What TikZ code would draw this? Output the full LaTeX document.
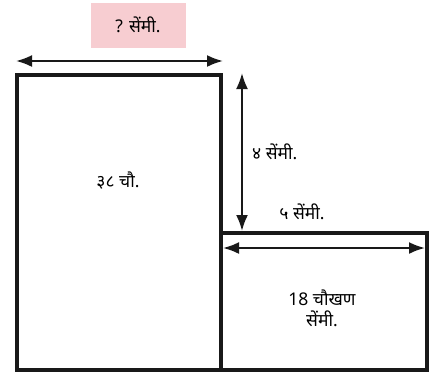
\documentclass[tikz,border=0pt]{standalone}
\usepackage{fontspec}
\setmainfont[Script=Devanagari]{Noto Sans}
\usetikzlibrary{arrows.meta}
\definecolor{labelpink}{HTML}{F7CDD1}
\begin{document}
\begin{tikzpicture}
        [x=1pt, y=-1pt,
        rect/.style={line width=3.2pt, black!90},
        dim/.style={line width=2.2pt, black!90, {Latex[length=16pt,width=12pt]}-{Latex[length=16pt,width=12pt]}},
        lbl/.style={font=\fontsize{17.5}{21}\selectfont, inner sep=0pt, align=center}]

        \useasboundingbox (0,0) rectangle (434,373);

        % corners of the two rectangles
        \coordinate (BL) at (17,370);
        \coordinate (BT) at (221,75);
        \coordinate (SB) at (427,370);
        \coordinate (ST) at (221,233);

        \draw[rect] (BL) rectangle (BT);
        \draw[rect] (ST) rectangle (SB);

        % width of the big rectangle
        \coordinate (W1) at (16,61);
        \coordinate (W2) at (223,61);
        \draw[dim] (W1) -- (W2);
        \node[lbl, fill=labelpink, minimum width=95pt, minimum height=45pt] (qw) at (138,25) {? सेंमी.};

        % height difference
        \coordinate (H1) at (242,73);
        \coordinate (H2) at (242,231);
        \draw[dim] (H1) -- (H2);
        \node[lbl, anchor=west] (hd) at (252,152) {४ सेंमी.};

        % width of the small rectangle
        \coordinate (S1) at (223,248);
        \coordinate (S2) at (425,248);
        \draw[dim] (S1) -- (S2);
        \node[lbl] (sw) at (302,212) {५ सेंमी.};

        % areas
        \node[lbl] (ba) at (118,181) {३८ चौ.};
        \node[lbl] (sa) at (322,308) {18 चौखण\\सेंमी.};
    \end{tikzpicture}
\end{document}
